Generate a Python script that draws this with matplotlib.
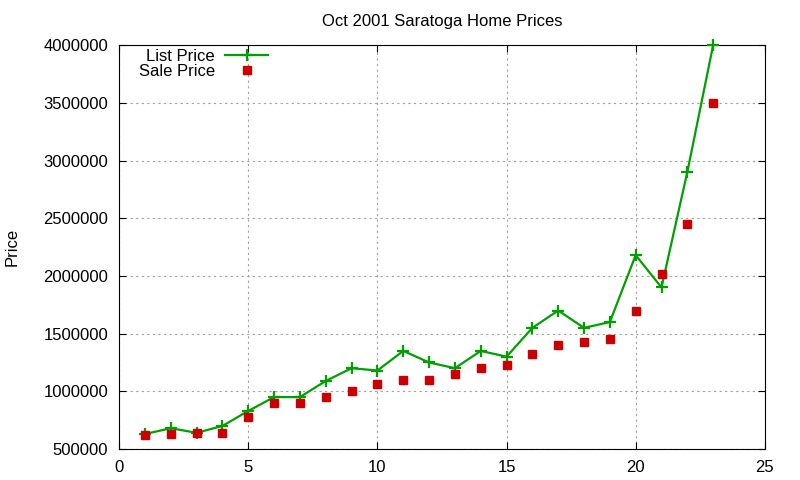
import numpy as np
import matplotlib
matplotlib.use('Agg')
import matplotlib.pyplot as plt

plt.rcParams['font.family'] = ['Liberation Sans', 'DejaVu Sans']

# Data
house = list(range(1, 24))
list_price = [630000, 680000, 640000, 700000, 830000, 950000, 950000, 1090000,
              1200000, 1180000, 1350000, 1250000, 1200000, 1350000, 1300000,
              1550000, 1700000, 1550000, 1600000, 2180000, 1900000, 2900000,
              4000000]
sale_price = [620000, 630000, 640000, 640000, 780000, 900000, 900000, 950000,
              1000000, 1060000, 1100000, 1100000, 1150000, 1200000, 1230000,
              1320000, 1400000, 1430000, 1450000, 1700000, 2020000, 2450000,
              3500000]
x_ticks = [0, 5, 10, 15, 20, 25]
y_ticks = [500000, 1000000, 1500000, 2000000, 2500000, 3000000, 3500000, 4000000]

fig = plt.figure(figsize=(8, 4.8), dpi=100)
ax = fig.add_axes([0.149, 0.0646, 0.807, 0.8414])

ax.plot(house, list_price, color='#00a000', lw=1.6, marker='+', ms=9, mew=1.6,
        label='List Price', clip_on=False, zorder=3)
ax.plot(house, sale_price, ls='none', marker='s', ms=6.3, color='#cc0000',
        label='Sale Price', clip_on=False, zorder=4)

ax.set_xlim(0, 25)
ax.set_ylim(500000, 4000000)
ax.set_xticks(x_ticks)
ax.set_yticks(y_ticks)
ax.set_yticklabels([str(v) for v in y_ticks])
ax.tick_params(direction='in', top=True, right=True, labelsize=12, length=5,
               pad=8)
ax.grid(True, color='#a0a0a0', ls=(0, (2, 3)), lw=0.8)
ax.set_axisbelow(True)

ax.set_title('Oct 2001 Saratoga Home Prices', fontsize=12, pad=14)
fig.text(12 / 800, 1 - 247 / 480, 'Price', rotation=90, fontsize=12,
         ha='center', va='center')

ax.legend(loc='upper left', bbox_to_anchor=(0.02, 1.007), frameon=False,
          markerfirst=False, fontsize=12, handlelength=2.6, handletextpad=0.6,
          labelspacing=0.0, borderaxespad=0.0, numpoints=1)

fig.savefig('out.png', dpi=100)
